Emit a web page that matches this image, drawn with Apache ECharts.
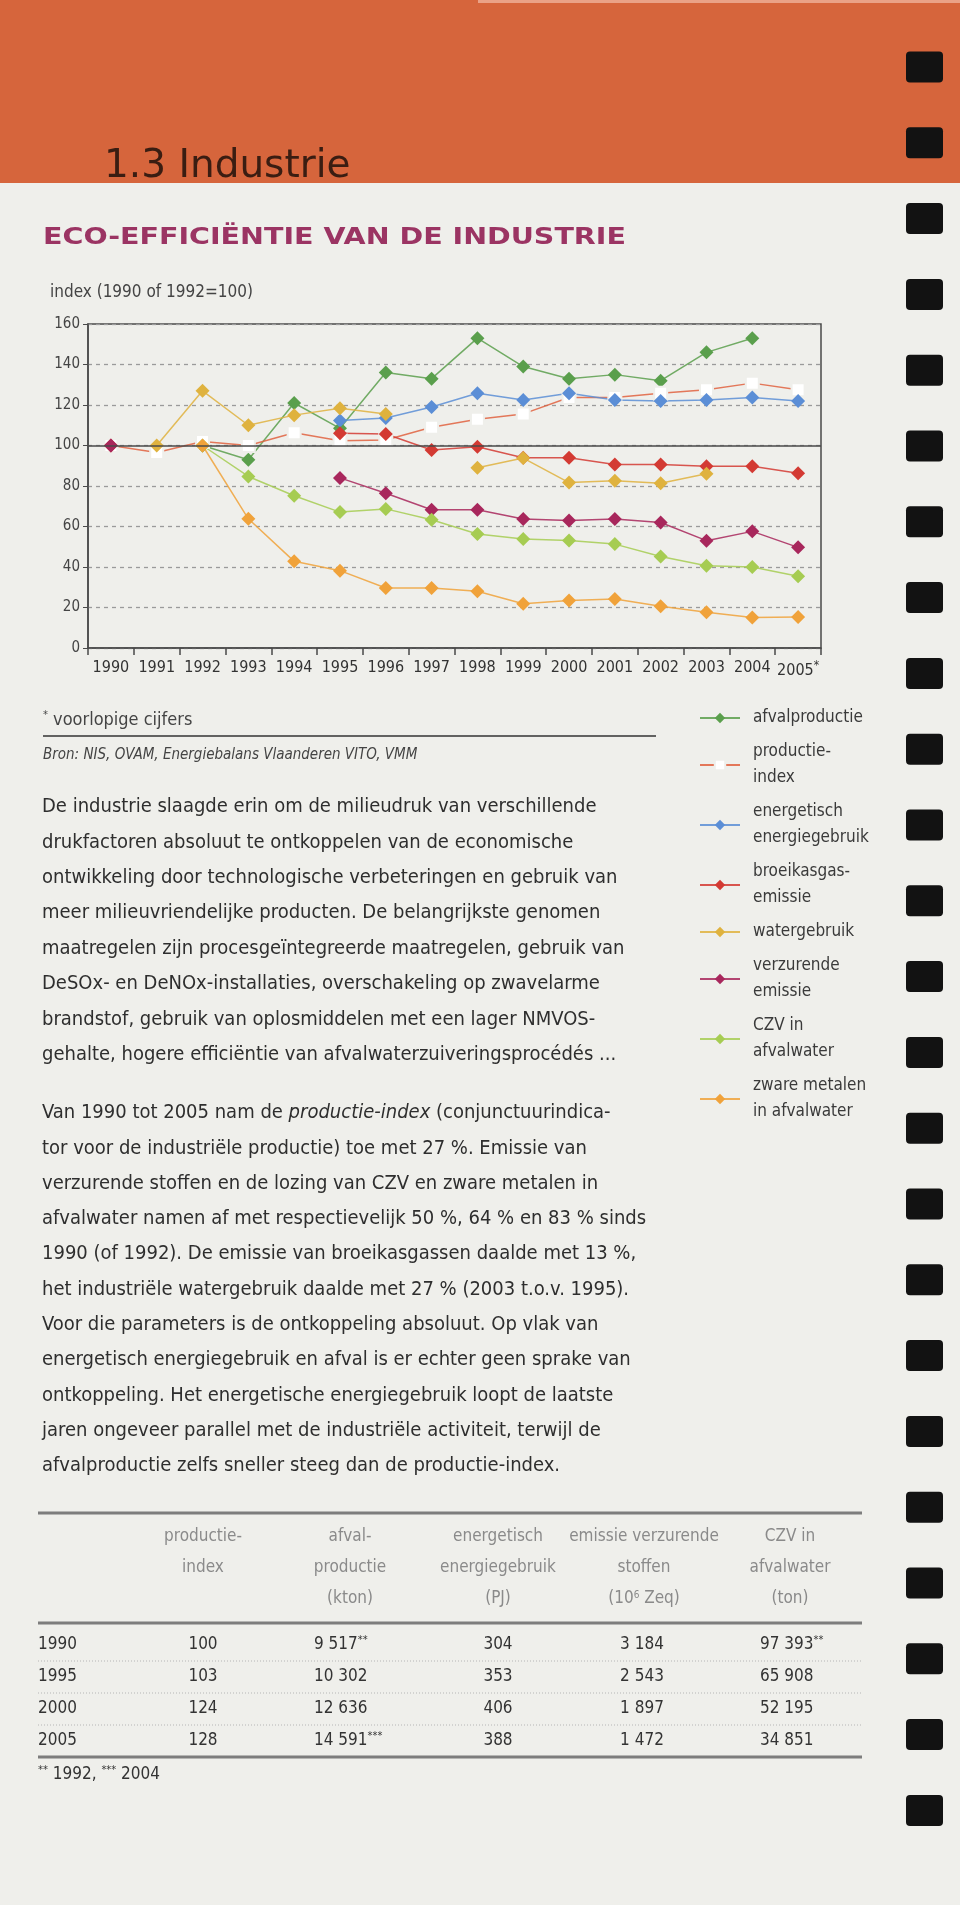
<!DOCTYPE html>
<html>
<head>
<meta charset="utf-8">
<script src="https://cdn.jsdelivr.net/npm/echarts@6/dist/echarts.min.js"></script>
<style>
html,body{margin:0;padding:0;background:#efefeb;}
#c{width:960px;height:1905px;}
</style>
</head>
<body>
<div id="c"></div>
<script>
// ---------- data ----------
const years = ['1990','1991','1992','1993','1994','1995','1996','1997','1998','1999','2000','2001','2002','2003','2004','2005'];
const seriesNames = ['afvalproductie','productie-index','energetisch energiegebruik','broeikasgasemissie','watergebruik','verzurende emissie','CZV in afvalwater','zware metalen in afvalwater'];
const legendLabels = ['afvalproductie','productie-\nindex','energetisch\nenergiegebruik','broeikasgas-\nemissie','watergebruik','verzurende\nemissie','CZV in\nafvalwater','zware metalen\nin afvalwater'];
const afvalproductie   = [null,null,100,93,121,108.5,136,133,153,139,133,135,132,146,153,null];
const productieIndex   = [100,96.5,102,100,106.3,102.3,102.7,109,113,115.6,123.7,123.7,125.8,127.5,130.8,127.5];
const energiegebruik   = [null,null,null,null,null,112.3,113.6,119,125.8,122.5,125.8,122.5,122,122.5,123.7,122];
const broeikasgas      = [100,null,null,null,null,106,105.7,97.8,99.4,93.9,93.9,90.6,90.6,89.8,89.8,86.3];
const watergebruik     = [null,100,127,110,115,118.4,115.6,null,89,93.8,81.7,82.6,81.4,86,null,null];
const verzurend        = [100,null,null,null,null,84,76.4,68.3,68.3,63.7,63,63.7,62,53,57.6,49.7];
const czv              = [null,null,100,84.7,75.2,67.1,68.7,63.3,56.3,53.8,53.1,51.3,45.2,40.6,40,35.4];
const zwareMetalen     = [null,null,100,63.8,42.8,38.2,29.6,29.6,28,21.9,23.4,24.2,20.6,17.6,15.1,15.3];
const seriesData = [afvalproductie,productieIndex,energiegebruik,broeikasgas,watergebruik,verzurend,czv,zwareMetalen];
const seriesColors = ['#5a9f4c','#e0613f','#5b8ed6','#d33a33','#dfb23e','#a8275c','#a6cc52','#f0a23a'];
const yMin = 0, yMax = 160, yStep = 20;

// table
const tableHeaders = [['productie-','index'],['afval-','productie','(kton)'],['energetisch','energiegebruik','(PJ)'],['emissie verzurende','stoffen','(10{sup|6} Zeq)'],['CZV in','afvalwater','(ton)']];
const tableYears = ['1990','1995','2000','2005'];
const colProductie = ['100','103','124','128'];
const colAfval = ['9 517{sup|**}','10 302','12 636','14 591{sup|***}'];
const colEnergie = ['304','353','406','388'];
const colVerzurend = ['3 184','2 543','1 897','1 472'];
const colCZV = ['97 393{sup|**}','65 908','52 195','34 851'];

const para1 = [
'De industrie slaagde erin om de milieudruk van verschillende',
'drukfactoren absoluut te ontkoppelen van de economische',
'ontwikkeling door technologische verbeteringen en gebruik van',
'meer milieuvriendelijke producten. De belangrijkste genomen',
'maatregelen zijn procesgeïntegreerde maatregelen, gebruik van',
'DeSOx- en DeNOx-installaties, overschakeling op zwavelarme',
'brandstof, gebruik van oplosmiddelen met een lager NMVOS-',
'gehalte, hogere efficiëntie van afvalwaterzuiveringsprocédés ...'
];
const para2 = [
'Van 1990 tot 2005 nam de {i|productie-index} (conjunctuurindica-',
'tor voor de industriële productie) toe met 27 %. Emissie van',
'verzurende stoffen en de lozing van CZV en zware metalen in',
'afvalwater namen af met respectievelijk 50 %, 64 % en 83 % sinds',
'1990 (of 1992). De emissie van broeikasgassen daalde met 13 %,',
'het industriële watergebruik daalde met 27 % (2003 t.o.v. 1995).',
'Voor die parameters is de ontkoppeling absoluut. Op vlak van',
'energetisch energiegebruik en afval is er echter geen sprake van',
'ontkoppeling. Het energetische energiegebruik loopt de laatste',
'jaren ongeveer parallel met de industriële activiteit, terwijl de',
'afvalproductie zelfs sneller steeg dan de productie-index.'
];

// ---------- rendering ----------
const FONT = '"DejaVu Sans Condensed","Liberation Sans Narrow","Liberation Sans",sans-serif';
const WIDE = '"DejaVu Sans","Liberation Sans",sans-serif';
const chart = echarts.init(document.getElementById('c'), null, {renderer:'canvas'});

const g = [];
function txt(x, y, text, size, color, opt) {
  opt = opt || {};
  g.push({
    type:'text', x:x, y:y, silent:true, z: 10,
    scaleX: opt.scaleX || 1,
    style: {
      text:text, fill:color, fontSize:size, fontFamily: opt.family || FONT,
      fontWeight: opt.weight || 'normal', fontStyle: opt.style || 'normal',
      align: opt.align || 'left', verticalAlign:'middle',
      textAlign: opt.align || 'left', textVerticalAlign:'middle',
      rich: opt.rich
    }
  });
}
function rect(x,y,w,h,fill,r){ g.push({type:'rect',silent:true,z:1,shape:{x:x,y:y,width:w,height:h,r:r||0},style:{fill:fill}}); }
function hline(x1,x2,y,color,w,dash){ g.push({type:'line',silent:true,z:5,shape:{x1:x1,y1:y,x2:x2,y2:y},style:{stroke:color,lineWidth:w,lineDash:dash||null}}); }

// header band
rect(0,0,960,183,'#d6653c');
rect(478,0,482,3,'#eaa287');
// binder squares
for (let k=0;k<24;k++){ rect(906, 67+75.8*k-15.5, 37, 31, '#121212', 4); }

txt(104,167,'1.3 Industrie',39,'#3a1d12',{family:WIDE});
txt(43,238,'ECO-EFFICIËNTIE VAN DE INDUSTRIE',23,'#9b3463',{weight:'bold',family:WIDE,scaleX:1.24});
txt(50,293,'index (1990 of 1992=100)',17,'#444');

// notes
const supRich = {sup:{fontSize:11,fontFamily:FONT,padding:[0,0,9,0],fill:'#444'}};
txt(43,720,'{sup|*} voorlopige cijfers',18,'#444',{rich:supRich});
hline(43,656,736,'#333',1.5);
txt(43,755,'Bron: NIS, OVAM, Energiebalans Vlaanderen VITO, VMM',15,'#444',{style:'italic'});

const rich2 = {i:{fontStyle:'italic',fontSize:20,fontFamily:FONT,fill:'#2e2e2e'}};
para1.forEach((l,i)=>txt(42,807+35.4*i,l,20,'#2e2e2e'));
para2.forEach((l,i)=>txt(42,1113+35.3*i,l,20,'#2e2e2e',{rich:rich2}));

// table
hline(38,862,1513,'#7d7d7d',3);
hline(38,862,1623,'#7d7d7d',3);
hline(38,862,1757,'#7d7d7d',3);
[1661,1693,1725].forEach(y=>hline(38,862,y,'#b5b5b5',1,[1,2]));
const colX = [203,350,498,644,790];
const hdrRich = {sup:{fontSize:10,fontFamily:FONT,padding:[0,0,8,0],fill:'#8a8a8a'}};
tableHeaders.forEach((lines,c)=>lines.forEach((l,r)=>txt(colX[c],1537+31*r,l,17,'#8a8a8a',{align:'center',rich:hdrRich})));
const rowY = [1645,1677,1709,1741];
const valRich = {sup:{fontSize:11,fontFamily:FONT,padding:[0,0,9,0],fill:'#333'}};
tableYears.forEach((y,i)=>{
  txt(38,rowY[i],y,17,'#333');
  txt(203,rowY[i],colProductie[i],17,'#333',{align:'center'});
  txt(314,rowY[i],colAfval[i],17,'#333',{rich:valRich});
  txt(498,rowY[i],colEnergie[i],17,'#333',{align:'center'});
  txt(642,rowY[i],colVerzurend[i],17,'#333',{align:'center'});
  txt(760,rowY[i],colCZV[i],17,'#333',{rich:valRich});
});
txt(38,1775,'{sup|**} 1992, {sup|***} 2004',17,'#333',{rich:valRich});

const series = seriesNames.map((name,i)=>{
  const s = {
    name:name, type:'line', data:seriesData[i],
    symbol: i===1 ? 'emptyRect' : 'diamond',
    symbolSize: i===1 ? 13 : 14,
    showSymbol:true, showAllSymbol:true, connectNulls:false,
    color: seriesColors[i],
    itemStyle:{color: i===1 ? '#efefeb' : seriesColors[i], borderColor: seriesColors[i], borderWidth: i===1 ? 1.5 : 0},
    lineStyle:{color:seriesColors[i], width:1.5, opacity:0.85},
    emphasis:{disabled:true}, animation:false, z: 3
  };
  if (i===1) {
    s.markLine = {silent:true, symbol:'none', label:{show:false}, animation:false,
      lineStyle:{color:'#4a4a4a', type:'solid', width:1.5}, data:[{yAxis:100}]};
  }
  return s;
});

chart.setOption({
  backgroundColor:'#efefeb',
  animation:false,
  textStyle:{fontFamily:FONT},
  grid:{left:88, top:324, width:733, height:324, show:true, borderColor:'#4a4a4a', borderWidth:1.5, backgroundColor:'transparent'},
  legend:{
    orient:'vertical', left:694, top:700, itemGap:8, itemWidth:40, itemHeight:13,
    data: seriesNames,
    formatter: n => legendLabels[seriesNames.indexOf(n)],
    textStyle:{fontSize:17, lineHeight:26, color:'#3a3a3a', fontFamily:FONT, padding:[0,0,0,8]},
    selectedMode:false
  },
  xAxis:{
    type:'category', data:years, boundaryGap:true,
    axisLine:{lineStyle:{color:'#4a4a4a', width:1.5}},
    axisTick:{show:true, length:7, lineStyle:{color:'#4a4a4a', width:1.5}},
    axisLabel:{interval:0, fontSize:16, color:'#333', margin:12, fontFamily:FONT,
      formatter: v => v === '2005' ? v + '{s|*}' : v,
      rich:{s:{fontSize:12, padding:[0,0,10,0], color:'#333', fontFamily:FONT}}},
    splitLine:{show:false}
  },
  yAxis:{
    type:'value', min:yMin, max:yMax, interval:yStep,
    axisLine:{show:true, lineStyle:{color:'#4a4a4a', width:1.5}},
    axisTick:{show:true, length:5, lineStyle:{color:'#4a4a4a'}},
    axisLabel:{fontSize:15, color:'#444', margin:8, fontFamily:FONT},
    splitLine:{show:true, lineStyle:{color:'#9a9a9a', type:[4,4], width:1.3}}
  },
  graphic: g,
  series: series
});
</script>
</body>
</html>
